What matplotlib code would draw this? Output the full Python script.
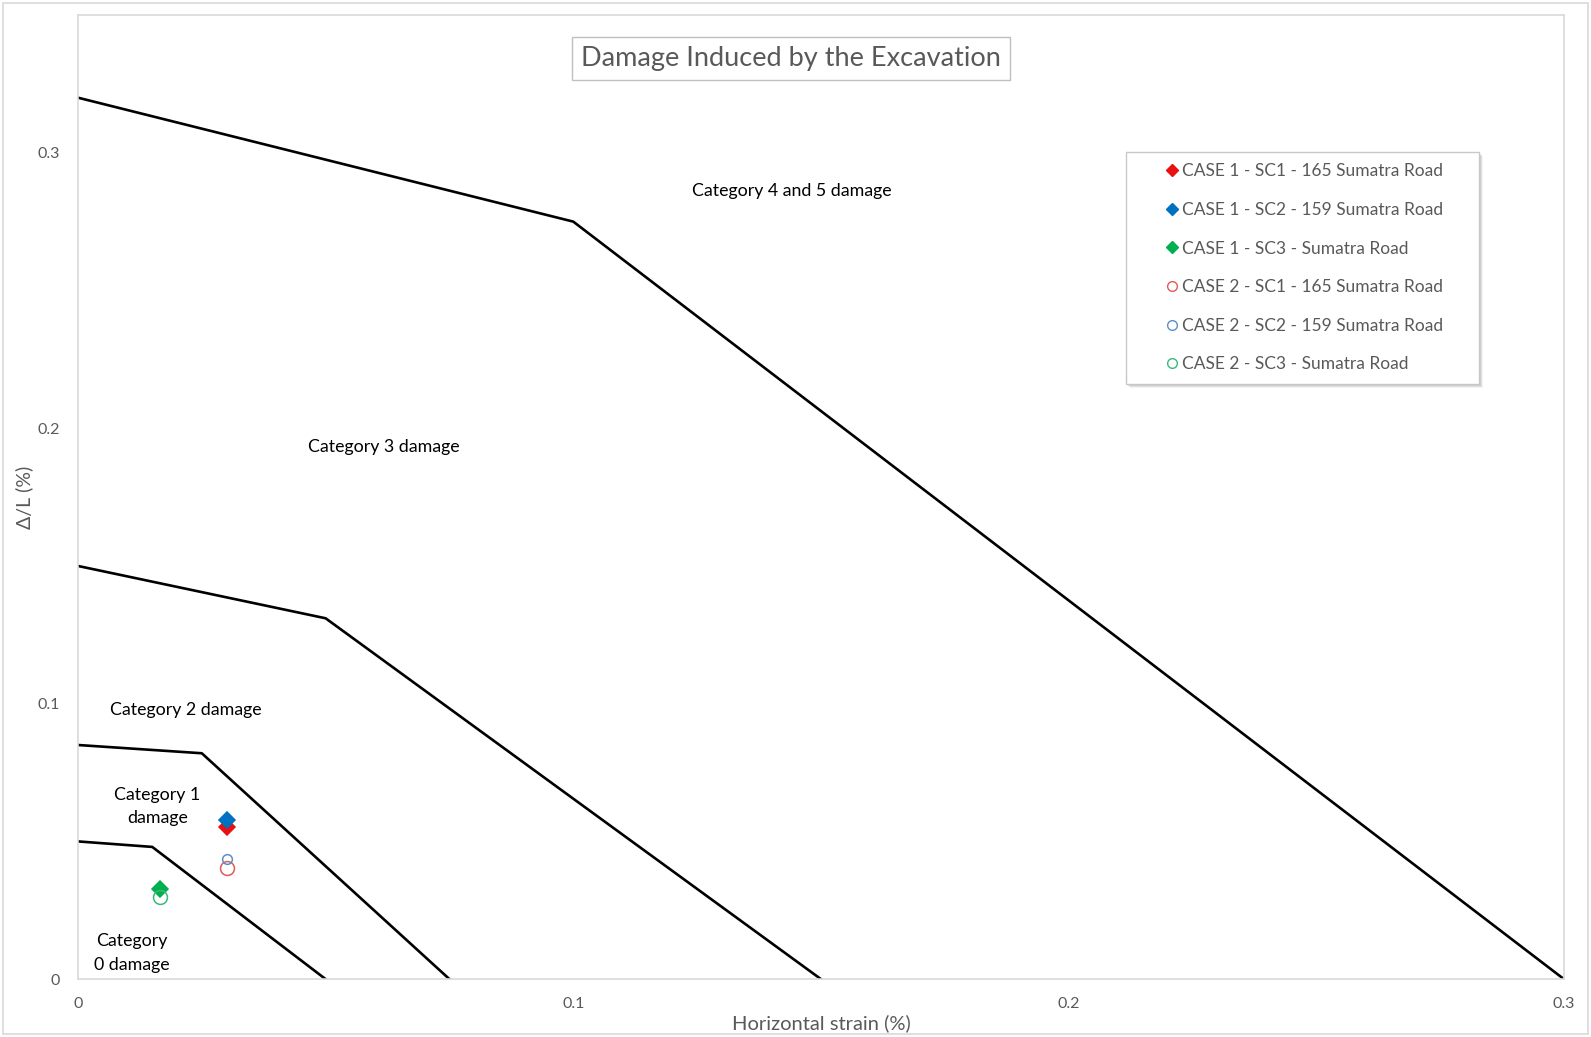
import matplotlib.pyplot as plt
from matplotlib.patches import Rectangle
from matplotlib.transforms import ScaledTranslation

plt.rcParams['font.family'] = ['Lato', 'DejaVu Sans']

# damage category boundaries: (strain, deflection ratio) corner points
bound_0_1_x = [0, 0.015, 0.05]
bound_0_1_y = [0.05, 0.048, 0]
bound_1_2_x = [0, 0.025, 0.075]
bound_1_2_y = [0.085, 0.082, 0]
bound_2_3_x = [0, 0.05, 0.15]
bound_2_3_y = [0.15, 0.131, 0]
bound_3_4_x = [0, 0.1, 0.3]
bound_3_4_y = [0.32, 0.275, 0]

# measured points
case_labels = [
    "CASE 1 - SC1 - 165 Sumatra Road",
    "CASE 1 - SC2 - 159 Sumatra Road",
    "CASE 1 - SC3 - Sumatra Road",
    "CASE 2 - SC1 - 165 Sumatra Road",
    "CASE 2 - SC2 - 159 Sumatra Road",
    "CASE 2 - SC3 - Sumatra Road",
]
case_strain = [0.030, 0.030, 0.0166, 0.030, 0.030, 0.0166]
case_defl = [0.0553, 0.0579, 0.0328, 0.0402, 0.0435, 0.0299]

zone_labels = ["Category 4 and 5 damage", "Category 3 damage", "Category 2 damage",
               "Category 1\ndamage", "Category\n0 damage"]
zone_x = [0.1441, 0.0617, 0.0217, 0.0160, 0.0109]
zone_y = [0.2860, 0.1931, 0.0977, 0.0627, 0.0096]

grey = '#595959'
edge = '#D9D9D9'

fig = plt.figure(figsize=(15.91, 10.37), dpi=100)
ax = fig.add_axes([0.049, 0.0558, 0.934, 0.9297])

# outer chart frame
fig.patches.append(Rectangle((0.002, 0.003), 0.996, 0.994, transform=fig.transFigure,
                             fill=False, edgecolor=edge, lw=1.2))

for bx, by in [(bound_0_1_x, bound_0_1_y), (bound_1_2_x, bound_1_2_y),
               (bound_2_3_x, bound_2_3_y), (bound_3_4_x, bound_3_4_y)]:
    ax.plot(bx, by, color='black', lw=1.9, zorder=2)

# series styles: marker, face, edge, size
styles = [
    ('D', '#E81010', '#E81010', 8),
    ('D', '#0070C0', '#0070C0', 8),
    ('D', '#00B050', '#00B050', 8),
    ('o', 'none', '#E05A5A', 10),
    ('o', 'none', '#5B8FC8', 7),
    ('o', 'none', '#3CB878', 10),
]
for i in range(len(case_labels)):
    m, fc, ec, ms = styles[i]
    ax.plot([case_strain[i]], [case_defl[i]], ls='none', marker=m, ms=ms,
            markerfacecolor=fc, markeredgecolor=ec, markeredgewidth=1.1,
            label=case_labels[i], zorder=3)

for t, x, y in zip(zone_labels, zone_x, zone_y):
    ax.text(x, y, t, ha='center', va='center', fontsize=12.8, color='black',
            linespacing=1.6)

ax.set_xlim(0, 0.3)
ax.set_ylim(0, 0.35)
ax.set_xticks([0, 0.1, 0.2, 0.3])
ax.set_xticklabels(['0', '0.1', '0.2', '0.3'])
ax.set_yticks([0, 0.1, 0.2, 0.3])
ax.set_yticklabels(['0', '0.1', '0.2', '0.3'])
ax.tick_params(axis='both', length=0, colors=grey, labelsize=11.5)
ax.tick_params(axis='y', pad=13)
ax.tick_params(axis='x', pad=13)
for s in ax.spines.values():
    s.set_color(edge)
    s.set_linewidth(1.2)

ax.set_xlabel('Horizontal strain (%)', color=grey, fontsize=14.5, labelpad=2)
ax.set_ylabel('Δ/L (%)', color=grey, fontsize=14, labelpad=3)

ax.text(0.4798, 0.9545, 'Damage Induced by the Excavation', transform=ax.transAxes,
        ha='center', va='center', fontsize=19.5, color=grey,
        bbox=dict(boxstyle='square,pad=0.33', fc='white', ec='#BFBFBF', lw=1))

# legend box with a soft drop shadow
bx0, by0, bx1, by1 = 0.7053, 0.6174, 0.9428, 0.8581
for k, a in [(4, 0.10), (3, 0.15), (2, 0.2)]:
    sh = Rectangle((bx0, by0), bx1 - bx0, by1 - by0, fc='#808080', ec='none',
                   alpha=a, zorder=4)
    sh.set_transform(ax.transAxes + ScaledTranslation(k / 100, -k / 100,
                                                      fig.dpi_scale_trans))
    ax.add_patch(sh)
ax.add_patch(Rectangle((bx0, by0), bx1 - bx0, by1 - by0, transform=ax.transAxes,
                       fc='white', ec='#C8C8C8', lw=1, zorder=5))

leg_handles = []
for i in range(len(case_labels)):
    m, fc, ec, ms = styles[i]
    h, = ax.plot([], [], ls='none', marker=m, ms=6 if m == 'D' else 7,
                 markerfacecolor=fc, markeredgecolor=ec, markeredgewidth=1.0)
    leg_handles.append(h)
leg = ax.legend(leg_handles, case_labels, loc='upper left',
                bbox_to_anchor=(0.7328, 0.8461), fontsize=12.5, labelcolor=grey,
                frameon=False, handlelength=0.6, handletextpad=0.25,
                labelspacing=1.3, borderpad=0, borderaxespad=0)
leg.set_zorder(6)

fig.savefig('out.png', dpi=100)
